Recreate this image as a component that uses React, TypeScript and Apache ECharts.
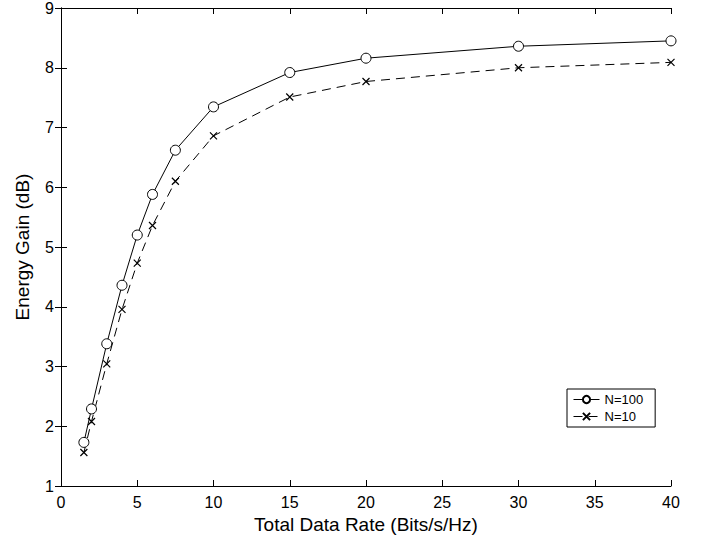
import React, { useEffect, useRef } from "react";
import * as echarts from "echarts";

const rates = [1.5, 2, 3, 4, 5, 6, 7.5, 10, 15, 20, 30, 40];
const gainN100 = [1.73, 2.29, 3.38, 4.36, 5.2, 5.88, 6.62, 7.345, 7.92, 8.16, 8.36, 8.45];
const gainN10 = [1.56, 2.08, 3.045, 3.955, 4.73, 5.36, 6.1, 6.86, 7.51, 7.77, 8.0, 8.09];
const seriesNames = ["N=100", "N=10"];
const xTitle = "Total Data Rate (Bits/s/Hz)";
const yTitle = "Energy Gain (dB)";

const crossPath = "path://M0,0L10,10M10,0L0,10";
const font = "'Liberation Sans', Arial, Helvetica, sans-serif";

export default function App() {
  const ref = useRef<HTMLDivElement>(null);
  useEffect(() => {
    if (!ref.current) return;
    const chart = echarts.init(ref.current, undefined, { renderer: "svg" });
    const axisLine = { show: true, lineStyle: { color: "#000", width: 1 } };
    const axisTick = { show: true, inside: true, length: 6, lineStyle: { color: "#000" } };
    chart.setOption({
      animation: false,
      backgroundColor: "#fff",
      textStyle: { fontFamily: font },
      grid: { left: 61, right: 33, top: 6, bottom: 56, containLabel: false },
      legend: {
        orient: "vertical",
        left: 567,
        top: 389,
        width: 86,
        padding: [4, 12, 4, 6],
        itemGap: 4,
        itemWidth: 26,
        itemHeight: 9,
        borderColor: "#000",
        borderWidth: 1,
        backgroundColor: "#fff",
        lineStyle: { width: 1 },
        textStyle: { fontFamily: font, fontSize: 13, color: "#000" },
        data: seriesNames,
      },
      xAxis: [
        {
          type: "value",
          min: 0,
          max: 40,
          interval: 5,
          position: "bottom",
          name: xTitle,
          nameLocation: "middle",
          nameGap: 29,
          nameTextStyle: { fontSize: 19, color: "#000", fontFamily: font },
          axisLine,
          axisTick,
          axisLabel: { fontSize: 16, color: "#000", margin: 8, fontFamily: font },
          splitLine: { show: false },
        },
        {
          type: "value",
          min: 0,
          max: 40,
          interval: 5,
          position: "top",
          axisLine,
          axisTick,
          axisLabel: { show: false },
          splitLine: { show: false },
        },
      ],
      yAxis: [
        {
          type: "value",
          min: 1,
          max: 9,
          interval: 1,
          position: "left",
          name: yTitle,
          nameLocation: "middle",
          nameGap: 29,
          nameRotate: 90,
          nameTextStyle: { fontSize: 19, color: "#000", fontFamily: font },
          axisLine,
          axisTick,
          axisLabel: { fontSize: 16, color: "#000", margin: 7, fontFamily: font },
          splitLine: { show: false },
        },
        {
          type: "value",
          min: 1,
          max: 9,
          interval: 1,
          position: "right",
          axisLine,
          axisTick,
          axisLabel: { show: false },
          splitLine: { show: false },
        },
      ],
      series: [
        {
          name: seriesNames[0],
          type: "line",
          data: rates.map((r, i) => [r, gainN100[i]]),
          symbol: "circle",
          symbolSize: 10,
          showAllSymbol: true,
          lineStyle: { color: "#000", width: 1 },
          itemStyle: { color: "#fff", borderColor: "#000", borderWidth: 1 },
        },
        {
          name: seriesNames[1],
          type: "line",
          data: rates.map((r, i) => [r, gainN10[i]]),
          symbol: crossPath,
          symbolSize: 7,
          showAllSymbol: true,
          lineStyle: { color: "#000", width: 1, type: [9, 6] },
          itemStyle: { color: "none", borderColor: "#000", borderWidth: 1.2 },
        },
      ],
    });
    return () => chart.dispose();
  }, []);
  return <div ref={ref} style={{ width: 704, height: 542, position: "absolute", left: 0, top: 0 }} />;
}
